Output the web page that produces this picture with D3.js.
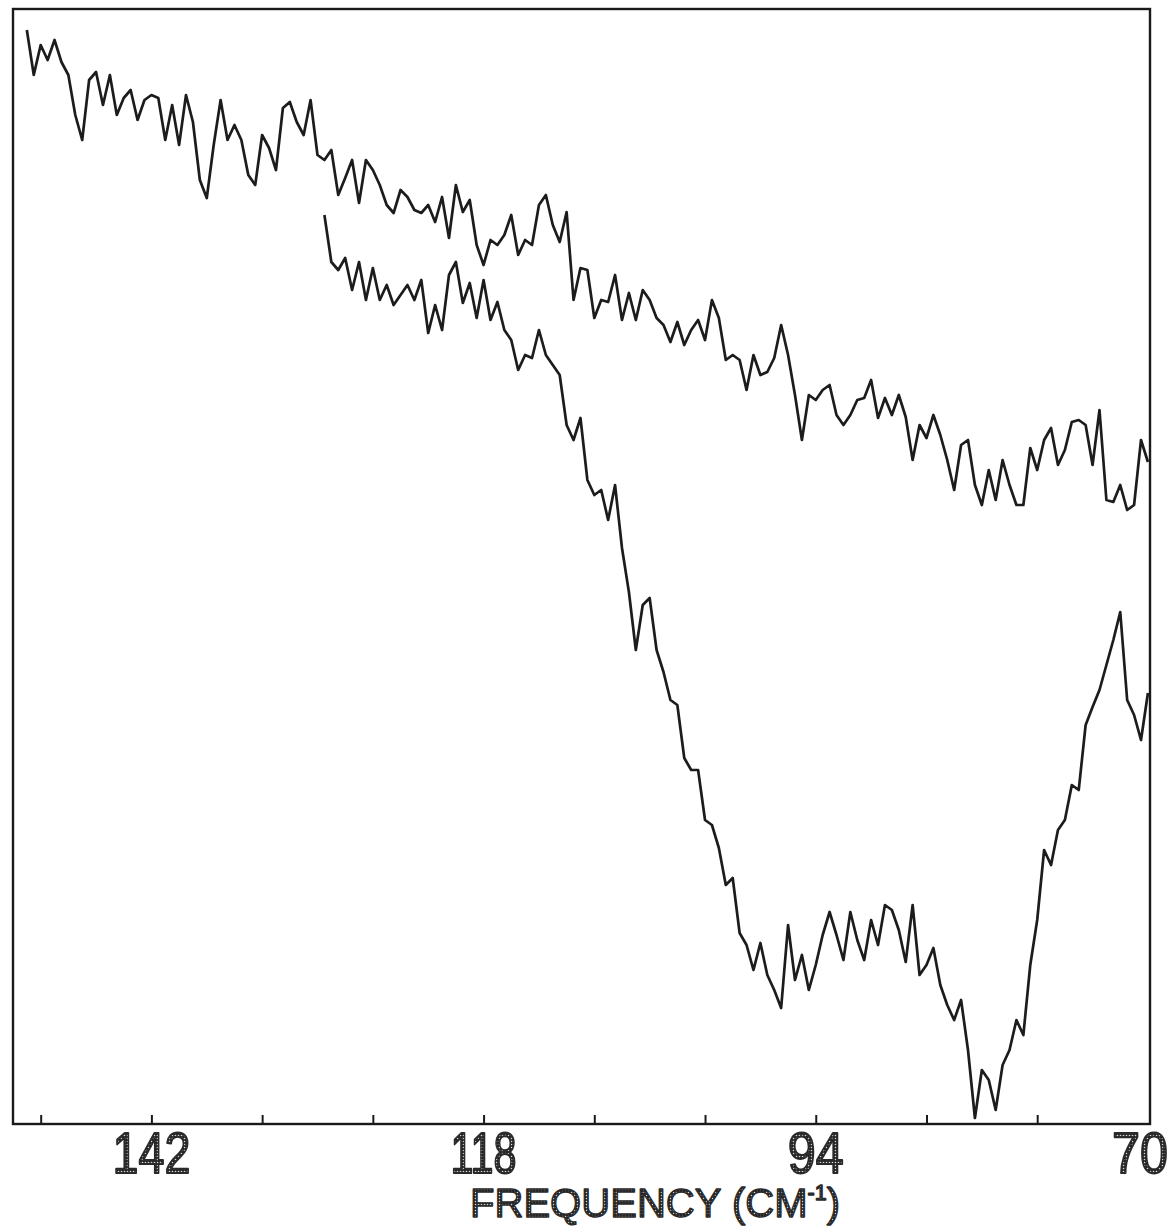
<!DOCTYPE html>
<html>
<head>
<meta charset="utf-8">
<script src="https://cdn.jsdelivr.net/npm/d3@7"></script>
<style>
  html, body { margin: 0; padding: 0; background: #fff; }
  svg { display: block; }
</style>
</head>
<body>
<svg id="chart" width="1176" height="1231"></svg>
<script>
// Far-infrared transmission spectra, sampled every 0.5 cm-1 (relative units).
const sampleStep = 0.5;          // cm-1 between samples
const upperStart = 151.0;        // first sample of the upper (reference) trace
const lowerStart = 129.5;        // first sample of the lower (sample) trace

const upperSignal = [
  109.4, 104.9, 107.9, 106.4, 108.4, 106.2, 104.9, 100.9, 98.4, 104.4,
  105.2, 101.9, 104.9, 100.9, 102.6, 103.4, 100.4, 102.4, 102.9, 102.6,
  98.4, 101.9, 97.9, 102.9, 100.2, 94.4, 92.6, 97.9, 102.4, 98.4,
  99.9, 98.4, 94.9, 93.9, 98.9, 97.6, 95.4, 101.6, 102.2, 100.2,
  98.9, 102.4, 96.9, 96.4, 97.4, 92.9, 94.6, 96.4, 92.1, 96.4,
  95.4, 93.9, 91.9, 91.1, 93.4, 92.7, 91.4, 91.1, 91.9, 90.2,
  92.7, 88.6, 93.9, 91.2, 92.4, 87.9, 85.9, 88.4, 87.9, 88.9,
  90.9, 86.9, 88.4, 87.9, 91.9, 92.9, 89.9, 88.2, 91.2, 82.4,
  85.6, 85.4, 80.6, 82.4, 82.2, 84.9, 80.4, 83.1, 80.4, 83.4,
  82.4, 80.6, 79.9, 78.2, 80.2, 77.9, 79.4, 80.4, 78.4, 82.4,
  80.6, 76.4, 76.9, 76.4, 73.4, 76.9, 74.9, 75.2, 76.6, 79.9,
  76.9, 72.9, 68.4, 72.9, 72.4, 73.4, 73.9, 70.9, 69.9, 70.9,
  72.4, 72.6, 74.4, 70.6, 72.6, 70.9, 72.9, 70.7, 66.4, 69.9,
  68.6, 70.9, 68.9, 66.4, 63.4, 67.9, 68.4, 63.9, 61.9, 65.4,
  62.4, 66.4, 63.9, 61.9, 61.9, 67.6, 65.4, 68.4, 69.6, 65.9,
  67.4, 70.2, 70.4, 69.9, 65.9, 71.4, 62.4, 62.2, 63.9, 61.4,
  61.9, 68.4, 66.2
];

const lowerSignal = [
  90.9, 86.2, 85.4, 86.6, 83.4, 86.2, 82.4, 85.6, 82.4, 83.9,
  81.9, 82.9, 83.9, 82.4, 84.4, 79.1, 81.9, 79.4, 84.9, 86.2,
  82.1, 84.1, 80.6, 84.4, 80.4, 82.2, 79.4, 78.4, 75.4, 76.9,
  76.6, 79.4, 76.9, 75.9, 74.9, 69.9, 68.4, 70.6, 64.4, 62.9,
  63.4, 60.4, 63.9, 57.6, 53.2, 47.4, 51.9, 52.6, 47.4, 45.2,
  42.4, 41.9, 36.6, 35.4, 35.4, 30.4, 29.9, 27.6, 23.9, 24.6,
  19.1, 17.9, 15.4, 18.1, 14.9, 13.4, 11.6, 19.9, 14.4, 16.9,
  13.4, 15.9, 18.9, 21.2, 18.9, 16.4, 21.2, 18.4, 16.4, 20.4,
  17.9, 21.9, 21.4, 19.4, 16.2, 21.9, 14.9, 15.9, 17.6, 13.9,
  11.9, 10.4, 12.4, 7.4, 0.6, 5.4, 4.4, 1.4, 5.9, 7.4,
  10.4, 8.9, 15.9, 20.4, 27.4, 25.9, 29.4, 30.4, 33.9, 33.4,
  39.9, 41.7, 43.4, 45.9, 48.4, 51.2, 42.4, 40.9, 38.4, 43.1
];

const tickFreqs = [150, 142, 134, 126, 118, 110, 102, 94, 86, 78];
const labelFreqs = [142, 118, 94, 70];
const freqDomain = [152, 69.85];
const signalDomain = [0, 111.5];

(function draw() {
  const svg = d3.select("#chart");
  const plotLeft = 13, plotRight = 1150, plotTop = 9, plotBottom = 1124;

  const x = d3.scaleLinear().domain(freqDomain).range([plotLeft, plotRight]);
  const y = d3.scaleLinear().domain(signalDomain).range([plotBottom, plotTop]);

  // halftone fill used by the printed lettering
  const defs = svg.append("defs");
  const pat = defs.append("pattern")
    .attr("id", "dots").attr("width", 3).attr("height", 3)
    .attr("patternUnits", "userSpaceOnUse");
  pat.append("rect").attr("width", 3).attr("height", 3).attr("fill", "#262626");
  pat.append("circle").attr("cx", 1.5).attr("cy", 1.5).attr("r", 0.8).attr("fill", "#d8d8d8");

  const toPoints = (start, vals) => vals.map((v, i) => ({ f: start - i * sampleStep, v }));

  const line = d3.line().x(d => x(d.f)).y(d => y(d.v)).curve(d3.curveLinear);

  [[upperStart, upperSignal], [lowerStart, lowerSignal]].forEach(([start, vals]) => {
    svg.append("path")
      .datum(toPoints(start, vals))
      .attr("d", line)
      .attr("fill", "none").attr("stroke", "#1c1c1c")
      .attr("stroke-width", 2.7).attr("stroke-linejoin", "round");
  });

  // frame
  svg.append("rect")
    .attr("x", plotLeft).attr("y", plotTop)
    .attr("width", plotRight - plotLeft).attr("height", plotBottom - plotTop)
    .attr("fill", "none").attr("stroke", "#1a1a1a").attr("stroke-width", 2.4);

  // inward tick marks along the bottom edge
  const axis = d3.axisBottom(x).tickValues(tickFreqs)
    .tickSizeInner(-9).tickSizeOuter(0).tickFormat("");
  const gAxis = svg.append("g").attr("transform", `translate(0,${plotBottom})`).call(axis);
  gAxis.select(".domain").remove();
  gAxis.selectAll(".tick line").attr("stroke", "#1a1a1a").attr("stroke-width", 2);

  // frequency labels (printed glyph widths; the last one sits against the frame)
  const glyphWidth = { 142: 78, 118: 66, 94: 56, 70: 56 };
  const nudge = { 142: 0, 118: 0, 94: 0, 70: -8 };
  svg.append("g").selectAll("text")
    .data(labelFreqs)
    .join("text")
    .attr("x", d => x(d) + nudge[d])
    .attr("y", 1173)
    .attr("text-anchor", "middle")
    .attr("textLength", d => glyphWidth[d])
    .attr("lengthAdjust", "spacingAndGlyphs")
    .attr("font-family", "'Liberation Sans', Arial, sans-serif")
    .attr("font-size", 58)
    .attr("fill", "url(#dots)")
    .attr("stroke", "#2a2a2a").attr("stroke-width", 2)
    .attr("stroke-linejoin", "round")
    .text(d => d);

  // axis title
  const title = svg.append("text")
    .attr("x", 655).attr("y", 1217)
    .attr("text-anchor", "middle")
    .attr("textLength", 370)
    .attr("lengthAdjust", "spacingAndGlyphs")
    .attr("font-family", "'Liberation Sans', Arial, sans-serif")
    .attr("font-size", 41)
    .attr("fill", "url(#dots)")
    .attr("stroke", "#2a2a2a").attr("stroke-width", 1.4)
    .attr("stroke-linejoin", "round");
  title.append("tspan").text("FREQUENCY  (CM");
  title.append("tspan").attr("font-size", 22).attr("dy", -17).text("-1");
  title.append("tspan").attr("dy", 17).text(")");
})();
</script>
</body>
</html>
